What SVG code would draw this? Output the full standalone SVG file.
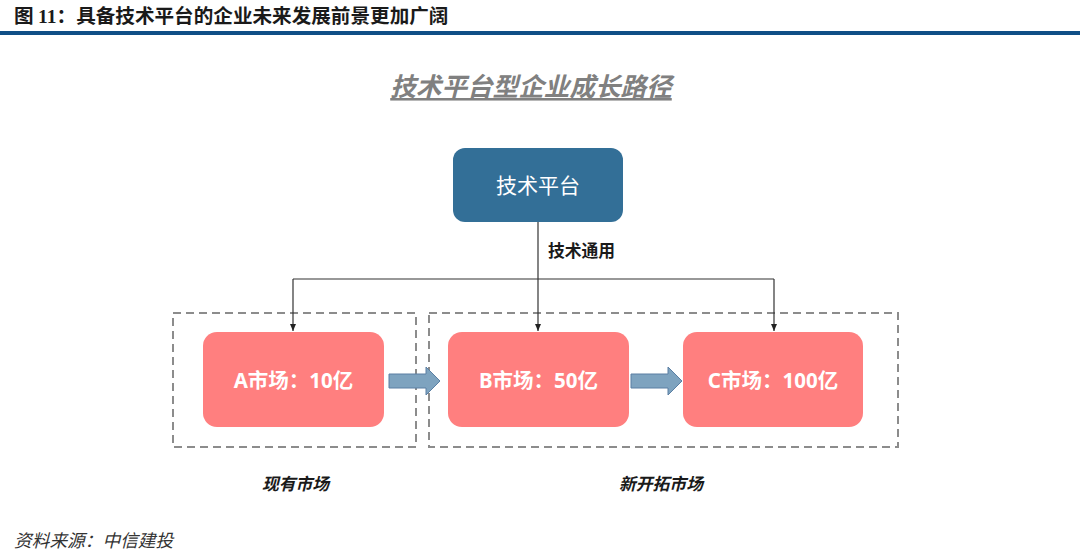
<svg xmlns="http://www.w3.org/2000/svg" width="1080" height="553" viewBox="0 0 1080 553">
<style>
.cjk{font-family:"Noto Sans CJK SC","Noto Sans",sans-serif}
.mkt{fill:#ff7f7f}
.mtxt{fill:#ffffff;font-size:20.5px;font-weight:bold;text-anchor:middle;font-family:"Noto Sans","Noto Sans CJK SC",sans-serif}
.dash{fill:none;stroke:#8c8c8c;stroke-width:2;stroke-dasharray:8,5}
.conn{fill:none;stroke:#333333;stroke-width:1.2}
.barrow{fill:#7ea3bf;stroke:#5a7fa3;stroke-width:1}
.lbl{font-size:16.8px;font-style:italic;font-weight:bold;fill:#1a1a1a}
</style>
<defs>
<marker id="ah" markerWidth="8" markerHeight="8" refX="7" refY="4" orient="auto" markerUnits="userSpaceOnUse">
<path d="M0,1 L7,4 L0,7 Z" fill="#222"/>
</marker>
</defs>
<rect width="1080" height="553" fill="#ffffff"/>
<g id="header">
<text x="14" y="23" class="cjk" font-size="19.6" font-weight="bold" fill="#1a1a1a">图 <tspan font-family="Liberation Serif,serif">11</tspan>：具备技术平台的企业未来发展前景更加广阔</text>
<rect x="0" y="31" width="1080" height="4" fill="#0f4f86"/>
</g>
<g id="subtitle">
<text x="531" y="96" class="cjk" font-size="25.6" font-style="italic" font-weight="bold" fill="#808080" text-anchor="middle" text-decoration="underline">技术平台型企业成长路径</text>
</g>
<g id="groups">
<rect id="existing-group" class="dash" x="173" y="313" width="243" height="134"/>
<rect id="new-group" class="dash" x="429" y="313" width="469" height="134"/>
</g>
<g id="connectors">
<line class="conn" x1="538" y1="222" x2="538" y2="331" marker-end="url(#ah)"/>
<line class="conn" x1="293" y1="279" x2="774" y2="279"/>
<line class="conn" x1="293" y1="279" x2="293" y2="331" marker-end="url(#ah)"/>
<line class="conn" x1="774" y1="279" x2="774" y2="331" marker-end="url(#ah)"/>
<path class="barrow" d="M389,374 H426 V367 L440,381 L426,395 V388 H389 Z"/>
<path class="barrow" d="M631,374 H668 V367 L682,381 L668,395 V388 H631 Z"/>
</g>
<g id="platform">
<rect x="453" y="148" width="170" height="74" rx="12" fill="#336f97"/>
<text x="538" y="193" class="cjk" font-size="21" fill="#ffffff" text-anchor="middle">技术平台</text>
</g>
<g id="tech-label">
<text x="548" y="257" class="cjk" font-size="16.8" font-weight="bold" fill="#1a1a1a">技术通用</text>
</g>
<g id="market-a">
<rect class="mkt" x="203" y="332" width="181" height="95" rx="14"/>
<text class="mtxt" x="293.5" y="388">A市场：10亿</text>
</g>
<g id="market-b">
<rect class="mkt" x="448" y="332" width="181" height="95" rx="14"/>
<text class="mtxt" x="538.5" y="388">B市场：50亿</text>
</g>
<g id="market-c">
<rect class="mkt" x="683" y="332" width="180" height="95" rx="14"/>
<text class="mtxt" x="773" y="388">C市场：100亿</text>
</g>
<g id="labels">
<text x="262" y="490" class="cjk lbl">现有市场</text>
<text x="619" y="490" class="cjk lbl">新开拓市场</text>
</g>
<g id="footer">
<text x="14" y="547" class="cjk" font-size="17.7" font-style="italic" fill="#333333">资料来源：中信建投</text>
</g>
</svg>
